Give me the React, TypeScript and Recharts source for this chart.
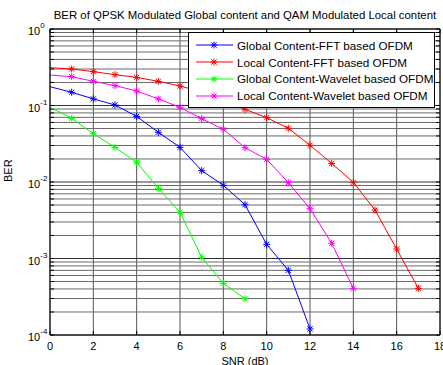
import React from 'react';
import { LineChart, Line, XAxis, YAxis, ReferenceLine, Legend, Label } from 'recharts';

const snrValues = [0, 1, 2, 3, 4, 5, 6, 7, 8, 9, 10, 11, 12, 13, 14, 15, 16, 17, 18];
const xTicks = [0, 2, 4, 6, 8, 10, 12, 14, 16, 18];
const yDecades = [1e-4, 1e-3, 1e-2, 1e-1, 1];
const minorMultipliers = [2, 3, 4, 5, 6, 7, 8, 9];

const globalFFT = [0.176, 0.149, 0.122, 0.1016, 0.072, 0.0447, 0.0284, 0.0141, 0.00906, 0.00505, 0.00153, 0.000701, 0.00012];
const localFFT = [0.312, 0.3, 0.277, 0.253, 0.233, 0.207, 0.18, 0.15, 0.119, 0.0891, 0.0693, 0.0504, 0.0302, 0.0175, 0.00991, 0.0043, 0.00133, 0.000407];
const globalWavelet = [0.0947, 0.068, 0.0428, 0.0284, 0.0181, 0.00827, 0.00402, 0.00104, 0.000474, 0.000298];
const localWavelet = [0.25, 0.238, 0.207, 0.182, 0.155, 0.122, 0.0947, 0.0673, 0.0489, 0.0281, 0.0198, 0.0098, 0.00448, 0.00158, 0.000407];

const seriesKeys = ['globalFFT', 'localFFT', 'globalWavelet', 'localWavelet'];
const seriesNames = [
  'Global Content-FFT based OFDM',
  'Local Content-FFT based OFDM',
  'Global Content-Wavelet based OFDM',
  'Local Content-Wavelet based OFDM',
];
const seriesColors = ['#0000ff', '#ff0000', '#00ff00', '#ff00ff'];
const seriesValues = [globalFFT, localFFT, globalWavelet, localWavelet];

const data = snrValues.map((s, i) => {
  const row: any = { snr: s };
  seriesKeys.forEach((k, j) => {
    row[k] = seriesValues[j][i] ?? null;
  });
  return row;
});

const minorValues: number[] = [];
yDecades.slice(0, 4).forEach((d) => minorMultipliers.forEach((m) => minorValues.push(d * m)));
const allYLines = [...yDecades, ...minorValues];

const FONT = '"Liberation Sans", Arial, sans-serif';

const starDot = (color: string) => (props: any) => {
  const { cx, cy, index, payload, value } = props;
  if (cx == null || cy == null || value == null || payload?.snr === 0) return <g key={`d${index}`} />;
  const r = 3.5;
  const d = 2.6;
  return (
    <g key={`d${index}`} stroke={color} strokeWidth={1}>
      <line x1={cx - r} y1={cy} x2={cx + r} y2={cy} />
      <line x1={cx} y1={cy - r} x2={cx} y2={cy + r} />
      <line x1={cx - d} y1={cy - d} x2={cx + d} y2={cy + d} />
      <line x1={cx - d} y1={cy + d} x2={cx + d} y2={cy - d} />
    </g>
  );
};

const YTick = (props: any) => {
  const { x, y, payload } = props;
  const e = Math.round(Math.log10(payload.value));
  return (
    <g>
      <text x={x - 22} y={y + 6} fontSize={11} fontFamily={FONT} fill="#000" textAnchor="start">
        10
        <tspan fontSize={8} dy={-7}>{String(e)}</tspan>
      </text>
    </g>
  );
};

const XTick = (props: any) => {
  const { x, y, payload } = props;
  return (
    <text x={x} y={y + 15} fontSize={11} fontFamily={FONT} fill="#000" textAnchor="middle">
      {payload.value}
    </text>
  );
};

const LegendBox = () => (
  <div
    style={{
      border: '1px solid #000',
      background: '#fff',
      width: 245,
      height: 70,
      boxSizing: 'content-box',
      paddingTop: 4,
      fontFamily: FONT,
      fontSize: 11.7,
    }}
  >
    {seriesNames.map((n, i) => (
      <div key={n} style={{ display: 'flex', alignItems: 'center', height: 16.8, whiteSpace: 'nowrap' }}>
        <svg width={48} height={16} style={{ display: 'block' }}>
          <line x1={7} y1={8} x2={44} y2={8} stroke={seriesColors[i]} strokeWidth={1} />
          <g stroke={seriesColors[i]} strokeWidth={1}>
            <line x1={21.5} y1={8} x2={28.5} y2={8} />
            <line x1={25} y1={4.5} x2={25} y2={11.5} />
            <line x1={22.4} y1={5.4} x2={27.6} y2={10.6} />
            <line x1={22.4} y1={10.6} x2={27.6} y2={5.4} />
          </g>
        </svg>
        <span style={{ color: '#000' }}>{n}</span>
      </div>
    ))}
  </div>
);

export default function App() {
  const xTickLen = 0.185;
  const yTickFactor = 1.128;
  return (
    <div style={{ position: 'absolute', left: 0, top: 0, width: 443, height: 365, background: '#fff' }}>
      <div
        style={{
          position: 'absolute',
          left: 45,
          width: 400,
          top: 10,
          textAlign: 'center',
          fontFamily: FONT,
          fontSize: 11.4,
          lineHeight: '11px',
          whiteSpace: 'nowrap',
          zIndex: 2,
        }}
      >
        BER of QPSK Modulated Global content and QAM Modulated Local content
      </div>
      <LineChart width={443} height={365} data={data} margin={{ top: 29, right: 3, left: 0, bottom: 0 }}>
        {xTicks.map((t) => (
          <ReferenceLine key={`vx${t}`} x={t} stroke="#555" strokeWidth={1} />
        ))}
        {allYLines.map((v) => (
          <ReferenceLine
            key={`hy${v}`}
            y={v}
            stroke={yDecades.includes(v) ? '#333' : '#6a6a6a'}
            strokeWidth={1}
          />
        ))}
        {allYLines.map((v) => (
          <ReferenceLine
            key={`tl${v}`}
            segment={[{ x: 0, y: v }, { x: xTickLen, y: v }]}
            stroke="#000"
          />
        ))}
        {allYLines.map((v) => (
          <ReferenceLine
            key={`tr${v}`}
            segment={[{ x: 18 - xTickLen, y: v }, { x: 18, y: v }]}
            stroke="#000"
          />
        ))}
        {xTicks.map((t) => (
          <ReferenceLine
            key={`tb${t}`}
            segment={[{ x: t, y: 1e-4 }, { x: t, y: 1e-4 * yTickFactor }]}
            stroke="#000"
          />
        ))}
        {xTicks.map((t) => (
          <ReferenceLine
            key={`tt${t}`}
            segment={[{ x: t, y: 1 / yTickFactor }, { x: t, y: 1 }]}
            stroke="#000"
          />
        ))}
        <ReferenceLine y={1} stroke="#000" strokeWidth={1} />
        <ReferenceLine x={18} stroke="#000" strokeWidth={1} />
        <XAxis
          dataKey="snr"
          type="number"
          domain={[0, 18]}
          ticks={xTicks}
          allowDataOverflow
          height={30}
          tickLine={false}
          tickSize={0}
          tickMargin={0}
          axisLine={{ stroke: '#000' }}
          tick={<XTick />}
          interval={0}
        >
          <Label value="SNR (dB)" position="insideBottom" offset={0} fontSize={11} fontFamily={FONT} fill="#000" />
        </XAxis>
        <YAxis
          type="number"
          scale="log"
          domain={[1e-4, 1]}
          ticks={yDecades}
          allowDataOverflow
          width={50}
          tickLine={false}
          tickSize={0}
          tickMargin={0}
          axisLine={{ stroke: '#000' }}
          tick={<YTick />}
          interval={0}
        >
          <Label value="BER" angle={-90} position="insideLeft" offset={8} fontSize={11} fontFamily={FONT} fill="#000" />
        </YAxis>
        {seriesKeys.map((k, i) => (
          <Line
            key={k}
            type="linear"
            dataKey={k}
            stroke={seriesColors[i]}
            strokeWidth={1}
            dot={starDot(seriesColors[i])}
            activeDot={false}
            isAnimationActive={false}
            connectNulls={false}
          />
        ))}
        <Legend
          layout="vertical"
          verticalAlign="middle"
          align="center"
          content={() => <LegendBox />}
          wrapperStyle={{ position: 'absolute', left: 188, top: 32, width: 247, height: 74 }}
        />
      </LineChart>
    </div>
  );
}
